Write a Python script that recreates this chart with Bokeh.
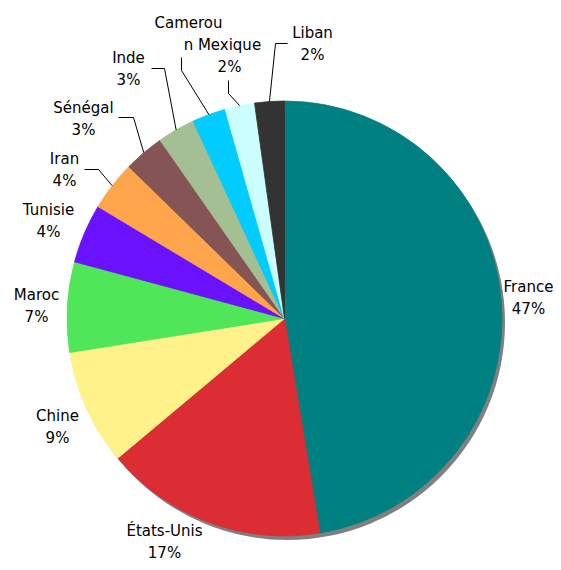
import numpy as np
from bokeh.plotting import figure
from bokeh.models import Range1d, ColumnDataSource
from bokeh.core.properties import value
from bokeh.embed import file_html
from bokeh.resources import INLINE

# ---------------- data ----------------
countries = ["France", "États-Unis", "Chine", "Maroc", "Tunisie", "Iran",
             "Sénégal", "Inde", "Cameroun", "Mexique", "Liban"]
shares = [47.4, 16.5, 8.6, 6.7, 4.4, 3.7, 3.0, 2.8, 2.5, 2.2, 2.2]
pct_labels = ["47%", "17%", "9%", "7%", "4%", "4%", "3%", "3%", "2%", "2%", "2%"]
colors = ["#008080", "#DC2C34", "#FFF28A", "#50E65A", "#6A11FF", "#FFA64D",
          "#855555", "#A4BF93", "#00CCFF", "#CCFFFF", "#333333"]

# ---------------- layout (figure pixel coordinates, y down) ----------------
W, H = 553, 562
cx_s, cy_s, R = 284, 318, 217.5
shadow_dx, shadow_dy = 3, 4

# label block centres (px)
label_pos = {
    "France": (528, 297), "États-Unis": (164, 541), "Chine": (57, 426),
    "Maroc": (36, 305), "Tunisie": (48, 220), "Iran": (64, 169),
    "Sénégal": (83, 118), "Inde": (128, 68), "Cameroun": (188, 33),
    "Mexique": (229, 55), "Liban": (312, 43),
}
# leader lines: elbow point, end point (px)
leaders = {
    "Liban": [(275, 43), (287, 43)],
    "Mexique": [(228, 93), (228, 80)],
    "Cameroun": [(181, 70), (181, 57)],
    "Inde": [(164, 68), (151, 68)],
    "Sénégal": [(133, 117), (118, 117)],
    "Iran": [(98, 169), (84, 169)],
}
wrapped = {"Cameroun": ["Camerou", "n"]}
LINE_H = 22


def dy(sy):
    return H - sy


p = figure(width=W, height=H, output_backend="svg", toolbar_location=None,
           x_range=Range1d(0, W), y_range=Range1d(0, H), min_border=0)
p.axis.visible = False
p.grid.visible = False
p.outline_line_color = None
p.background_fill_color = "white"

cx, cy = cx_s, dy(cy_s)

# shadow
p.circle(x=[cx + shadow_dx], y=[cy - shadow_dy], radius=R,
         fill_color="#808080", line_color=None)

vals = np.array(shares, dtype=float)
frac = vals / vals.sum()
cum = np.concatenate([[0], np.cumsum(frac)])
start = np.pi / 2 - 2 * np.pi * cum[:-1]
end = np.pi / 2 - 2 * np.pi * cum[1:]

src = ColumnDataSource(dict(start=start, end=end, color=colors,
                            x=[cx] * len(vals), y=[cy] * len(vals)))
p.wedge(x="x", y="y", radius=R, start_angle="start", end_angle="end",
        direction="clock", fill_color="color", line_color="color",
        line_width=0.8, source=src)

# leader lines
mid = (start + end) / 2
for i, c in enumerate(countries):
    if c in leaders:
        x0 = cx + R * np.cos(mid[i])
        y0 = cy + R * np.sin(mid[i])
        xs = [x0] + [pt[0] for pt in leaders[c]]
        ys = [y0] + [dy(pt[1]) for pt in leaders[c]]
        p.line(xs, ys, line_color="black", line_width=1)

# labels
tx, ty, tt = [], [], []
for i, c in enumerate(countries):
    lines = wrapped.get(c, [c, pct_labels[i]])
    lx, ly = label_pos[c]
    n = len(lines)
    for k, t in enumerate(lines):
        tx.append(lx)
        ty.append(dy(ly - (n - 1) * LINE_H / 2 + k * LINE_H))
        tt.append(t)
p.text(x=tx, y=ty, text=tt, text_font=value("DejaVu Sans"), text_font_size="15px",
       text_align="center", text_baseline="middle", text_color="#000000")

open("out.html", "w").write(file_html(p, INLINE))
